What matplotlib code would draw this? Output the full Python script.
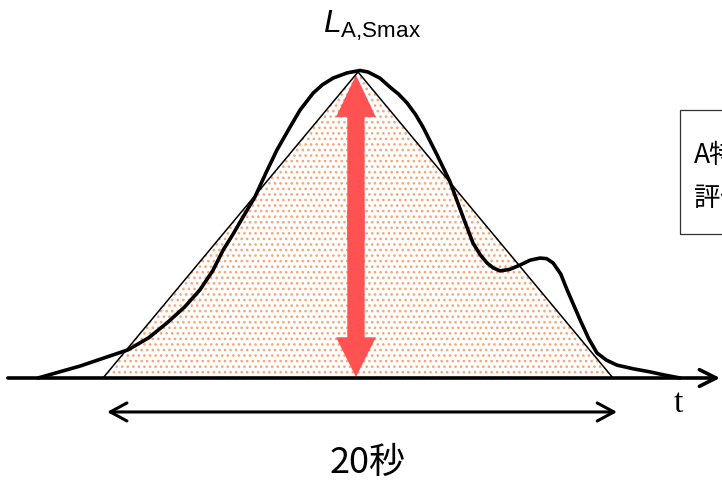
import numpy as np
import matplotlib.pyplot as plt
from matplotlib.patches import Rectangle

plt.rcParams['mathtext.fontset'] = 'custom'
plt.rcParams['mathtext.rm'] = 'Liberation Sans'
plt.rcParams['mathtext.it'] = 'Liberation Sans:italic'
plt.rcParams['hatch.linewidth'] = 1.1

# sound level vs time (t in s, level normalised so the peak = 1)
curve_t = [-2.55, -0.9, 0.98, 1.8, 2.51, 3.2, 3.8, 4.3, 4.71, 5.1, 5.49, 5.96,
           6.4, 6.82, 7.3, 7.73, 8.24, 8.6, 9.02, 9.57, 10.08, 10.39, 10.86,
           11.25, 11.6, 11.92, 12.25, 12.55, 13.1, 13.61, 14.12, 14.51, 14.8,
           15.06, 15.3, 15.57, 15.95, 16.35, 16.75, 17.14, 17.4, 17.65, 17.95,
           18.2, 18.71, 19.05, 19.37, 19.75, 20.16, 20.8, 21.45, 22.0, 22.63]
curve_L = [0.0, 0.039, 0.092, 0.132, 0.18, 0.232, 0.288, 0.35, 0.418, 0.47,
           0.526, 0.592, 0.672, 0.745, 0.815, 0.876, 0.931, 0.958, 0.98, 0.997,
           1.005, 1.0, 0.98, 0.951, 0.927, 0.899, 0.862, 0.82, 0.729, 0.641,
           0.526, 0.441, 0.402, 0.376, 0.36, 0.35, 0.355, 0.369, 0.385, 0.392,
           0.39, 0.376, 0.34, 0.288, 0.19, 0.128, 0.082, 0.058, 0.042, 0.03,
           0.02, 0.01, 0.0]

# equivalent triangle: 20 s base, peak L_A,Smax
tri_t = [0, 10, 20, 0]
tri_L = [0, 1, 0, 0]

px_per_s = 25.5
px_per_L = 306.0

fig = plt.figure(figsize=(7.22, 4.84), dpi=100)
ax = fig.add_axes([0, 0, 1, 1])
ax.set_xlim(-103 / px_per_s, (722 - 103) / px_per_s)
ax.set_ylim(-106 / px_per_L, 378 / px_per_L)
ax.axis('off')

# dotted triangle
ax.fill(tri_t, tri_L, facecolor='none', edgecolor='#f9a677', hatch='...', lw=0)
ax.plot(tri_t, tri_L, color='black', lw=1.1)

# red double arrow (peak height)
red = '#ff5353'
ax.arrow(9.92, 0.45, 0, 0.54, width=0.68, head_width=1.56, head_length=0.137,
         length_includes_head=True, color=red, lw=0)
ax.arrow(9.92, 0.55, 0, -0.547, width=0.68, head_width=1.56, head_length=0.13,
         length_includes_head=True, color=red, lw=0)

# measured curve
ax.plot(curve_t, curve_L, color='black', lw=2.6, solid_joinstyle='round',
        solid_capstyle='round')

# time axis
ax.annotate('', xy=(24.2, 0), xytext=(-3.73, 0),
            arrowprops=dict(arrowstyle='->,head_length=12,head_width=6',
                            lw=2.6, color='black', shrinkA=0, shrinkB=0,
                            mutation_scale=1))

# 20 s span
ax.annotate('', xy=(20.16, -0.111), xytext=(0.16, -0.111),
            arrowprops=dict(arrowstyle='<->,head_length=12,head_width=6.5',
                            lw=2.2, color='black', shrinkA=0, shrinkB=0,
                            mutation_scale=1))

W, H = 722, 484
fig.text(372 / W, 1 - 33 / H, r'$L_{\mathrm{A{,}Smax}}$', fontsize=23,
         ha='center', va='baseline')
fig.text(678 / W, 1 - 404 / H, 't', family=['Liberation Serif', 'DejaVu Serif'],
         fontsize=24, ha='center', va='center')
fig.text(368 / W, 1 - 463 / H, '20秒', family=['Noto Sans CJK JP', 'DejaVu Sans'],
         fontsize=26, ha='center', va='center')

# legend box cut off at the right edge (as in the original)
fig.patches.append(Rectangle((680 / W, 1 - 234 / H), 80 / W, 124 / H,
                             transform=fig.transFigure, fill=False, lw=0.9,
                             ec='#333333'))
fig.text(694 / W, 1 - 155 / H, 'A特性', family=['Noto Sans CJK JP', 'DejaVu Sans'],
         fontsize=19, ha='left', va='center')
fig.text(694 / W, 1 - 199 / H, '評価', family=['Noto Sans CJK JP', 'DejaVu Sans'],
         fontsize=19, ha='left', va='center')

fig.savefig('out.png', dpi=100)
